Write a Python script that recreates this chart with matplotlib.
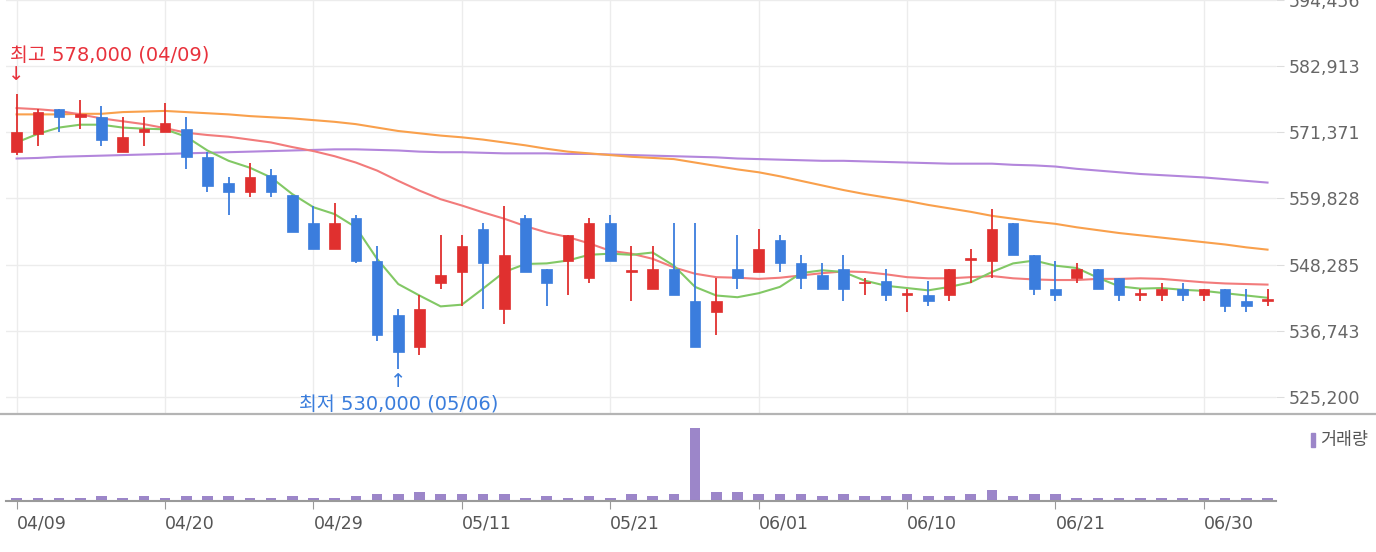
import numpy as np
import matplotlib
matplotlib.use('Agg')
import matplotlib.pyplot as plt
from matplotlib.patches import Rectangle
from matplotlib.lines import Line2D

# daily data, 2021-04-09 .. 2021-07-05
dates = ['04/09', '04/12', '04/13', '04/14', '04/15', '04/16', '04/19', '04/20', '04/21', '04/22',
         '04/23', '04/26', '04/27', '04/28', '04/29', '04/30', '05/03', '05/04', '05/06', '05/07',
         '05/10', '05/11', '05/12', '05/13', '05/14', '05/17', '05/18', '05/20', '05/21', '05/24',
         '05/25', '05/26', '05/27', '05/28', '05/31', '06/01', '06/02', '06/03', '06/04', '06/07',
         '06/08', '06/09', '06/10', '06/11', '06/14', '06/15', '06/16', '06/17', '06/18', '06/21',
         '06/22', '06/23', '06/24', '06/25', '06/28', '06/29', '06/30', '07/01', '07/02', '07/05']

opens = [568000, 571000, 575500, 574000, 574000, 568000, 571500, 571500, 572000, 567000,
         562500, 561000, 564000, 560500, 555500, 551000, 556500, 549000, 539500, 534000,
         545000, 547000, 554500, 540500, 556500, 547500, 549000, 546000, 555500, 547000,
         544000, 547500, 542000, 540000, 547500, 547000, 552500, 548500, 546500, 547500,
         545000, 545500, 543000, 543000, 543000, 549100, 549000, 555500, 550000, 544000,
         546000, 547500, 546000, 543000, 543000, 544000, 543000, 544000, 542000, 542000]
highs = [578000, 575500, 575500, 577000, 576000, 574000, 574000, 576500, 574000, 568000,
         563500, 566000, 565000, 560500, 558500, 559000, 557000, 551500, 540500, 543000,
         553500, 553500, 555500, 558500, 557000, 547500, 553500, 556500, 557000, 551500,
         551500, 555500, 555500, 546000, 553500, 554500, 553500, 550000, 548500, 550000,
         546000, 547500, 544000, 545500, 547500, 551000, 558000, 555500, 550000, 549000,
         548500, 547500, 546000, 544000, 545000, 545000, 544000, 544000, 544000, 544000]
lows = [567500, 569000, 571500, 572000, 569000, 568000, 569000, 571500, 565000, 561000,
        557000, 560000, 560000, 554000, 551000, 551000, 548500, 535000, 530000, 532500,
        544000, 541000, 540500, 538000, 547000, 541000, 543000, 545000, 549000, 542000,
        544000, 543000, 534000, 536000, 544000, 547000, 547000, 544000, 544000, 542000,
        543000, 542000, 540000, 541000, 542000, 545000, 546000, 550000, 543000, 542000,
        545000, 544000, 542000, 542000, 542000, 542000, 542000, 540000, 540000, 541000]
closes = [571500, 575000, 574000, 574500, 570000, 570500, 572000, 573000, 567000, 562000,
          561000, 563500, 561000, 554000, 551000, 555500, 549000, 536000, 533000, 540500,
          546500, 551500, 548500, 550000, 547000, 545000, 553500, 555500, 549000, 547300,
          547500, 543000, 534000, 542000, 546000, 551000, 548500, 546000, 544000, 544000,
          545300, 543000, 543300, 542000, 547500, 549400, 554500, 550000, 544000, 543000,
          547500, 544000, 543000, 543300, 544000, 543000, 544000, 541000, 541000, 542300]
volume = [28000, 27000, 29000, 28000, 48000, 27000, 50000, 28000, 49000, 48000,
          50000, 29000, 27000, 49000, 28000, 27000, 48000, 70000, 69000, 92000,
          71000, 70000, 69000, 72000, 28000, 48000, 27000, 49000, 28000, 70000,
          48000, 71000, 763000, 91000, 90000, 70000, 69000, 71000, 49000, 70000,
          48000, 49000, 70000, 48000, 49000, 71000, 112000, 48000, 70000, 69000,
          28000, 27000, 28000, 29000, 28000, 27000, 28000, 28000, 27000, 28000]

ma5 = [569600, 571100, 572200, 572700, 572700, 572200, 572000, 571900, 570600, 568200,
       566400, 565200, 563500, 560600, 558300, 557100, 554800, 549300, 544900, 542900,
       541000, 541300, 544100, 547000, 548400, 548500, 549000, 550000, 550200, 550000,
       550400, 548100, 544400, 542900, 542600, 543300, 544400, 546800, 547300, 547000,
       545500, 544600, 544200, 543800, 544400, 545200, 547000, 548500, 549000, 548100,
       547700, 546000, 544500, 544100, 544200, 543900, 543700, 543300, 542900, 542500]
ma20 = [575600, 575400, 575100, 574500, 573800, 573300, 572800, 572100, 571300, 570900,
        570600, 570100, 569600, 568800, 568100, 567200, 566100, 564700, 562900, 561200,
        559700, 558600, 557400, 556300, 555000, 553900, 553100, 552000, 550700, 550200,
        549300, 547800, 546700, 546100, 546000, 545800, 546000, 546400, 546800, 547100,
        547000, 546600, 546100, 545900, 545900, 546100, 546300, 545900, 545700, 545600,
        545600, 545800, 545800, 545900, 545800, 545500, 545200, 545000, 544900, 544800]
ma60 = [574500, 574500, 574500, 574600, 574600, 574900, 575000, 575100, 574900, 574700,
        574500, 574200, 574000, 573800, 573500, 573200, 572800, 572200, 571600, 571200,
        570800, 570500, 570100, 569600, 569100, 568500, 568000, 567700, 567400, 567100,
        566900, 566700, 566100, 565500, 564900, 564400, 563700, 562900, 562100, 561300,
        560600, 560000, 559400, 558700, 558100, 557500, 556800, 556300, 555800, 555400,
        554800, 554300, 553800, 553400, 553000, 552600, 552200, 551800, 551300, 550900]
ma120 = [566800, 566900, 567100, 567200, 567300, 567400, 567500, 567600, 567700, 567800,
         567900, 568000, 568100, 568200, 568300, 568400, 568400, 568300, 568200, 568000,
         567900, 567900, 567800, 567700, 567700, 567700, 567600, 567600, 567500, 567400,
         567300, 567200, 567100, 567000, 566800, 566700, 566600, 566500, 566400, 566400,
         566300, 566200, 566100, 566000, 565900, 565900, 565900, 565700, 565600, 565400,
         565000, 564700, 564400, 564100, 563900, 563700, 563500, 563200, 562900, 562600]

price_ticks = [525200, 536743, 548285, 559828, 571371, 582913, 594456]
tick_step = 7

RED = '#e0302f'
BLUE = '#3b7ddd'
VOL = '#9c86c9'
KFONT = ['DejaVu Sans', 'Noto Sans CJK KR']
plt.rcParams['font.family'] = ['DejaVu Sans']

x = np.arange(len(dates))
o = np.array(opens)
h = np.array(highs)
l = np.array(lows)
c = np.array(closes)

fig = plt.figure(figsize=(13.76, 5.52), dpi=100)
W, H = 1376, 552
ax = fig.add_axes([6 / W, 1 - 413 / H, 1270 / W, 413 / H])
axv = fig.add_axes([6 / W, 1 - 501 / H, 1270 / W, 86 / H], sharex=ax)

# moving averages
ax.plot(x, ma120, color='#b386dc', lw=1.5, zorder=2)
ax.plot(x, ma60, color='#f9a04c', lw=1.5, zorder=2)
ax.plot(x, ma20, color='#f27b7b', lw=1.5, zorder=2)
ax.plot(x, ma5, color='#82c865', lw=1.5, zorder=2)

# candles
cols = np.where(c >= o, RED, BLUE)
ax.vlines(x, l, h, colors=cols, lw=1.3, zorder=3)
body = np.maximum(np.abs(c - o), 250)
ax.bar(x, body, 0.5, bottom=np.minimum(o, c), color=cols, edgecolor=cols, lw=0.5, zorder=4)

ax.set_xlim(-0.5, 59.4)
ax.set_ylim(522400, price_ticks[-1])
ax.set_yticks(price_ticks)
ax.set_yticklabels([f'{v:,}' for v in price_ticks])
ax.yaxis.tick_right()
ax.tick_params(axis='y', length=6, color='#dddddd', labelcolor='#666666', labelsize=12.5, pad=3)
ax.tick_params(axis='x', length=0, labelbottom=False)
ax.grid(color='#ececec', lw=1)
ax.set_axisbelow(True)
for s in ax.spines.values():
    s.set_visible(False)

# high / low markers
hi_i = int(np.argmax(h))
lo_i = int(np.argmin(l))
ax.annotate('↓', xy=(hi_i, h[hi_i]), xytext=(0, 20), textcoords='offset pixels',
            ha='center', va='center', color='#e8323c', fontsize=14, family=KFONT,
            annotation_clip=False)
ax.annotate(f'최고 {h[hi_i]:,} ({dates[hi_i]})', xy=(hi_i, h[hi_i]), xytext=(-7, 38),
            textcoords='offset pixels', ha='left', va='center', color='#e8323c',
            fontsize=14, family=KFONT, annotation_clip=False)
ax.annotate('↑', xy=(lo_i, l[lo_i]), xytext=(0, -12), textcoords='offset pixels',
            ha='center', va='center', color='#3a7ddc', fontsize=14, family=KFONT,
            annotation_clip=False)
ax.annotate(f'최저 {l[lo_i]:,} ({dates[lo_i]})', xy=(lo_i, l[lo_i]), xytext=(0, -36),
            textcoords='offset pixels', ha='center', va='center', color='#3a7ddc',
            fontsize=14, family=KFONT, annotation_clip=False)

# volume
axv.bar(x, volume, 0.5, color=VOL)
axv.set_ylim(0, 903000)
axv.set_yticks([])
axv.set_xticks(x[::tick_step])
axv.set_xticklabels(dates[::tick_step], ha='left')
axv.tick_params(axis='x', length=6, color='#999999', labelcolor='#555555', labelsize=12.5, pad=4)
for k in ['top', 'left', 'right']:
    axv.spines[k].set_visible(False)
axv.spines['bottom'].set_color('#9a9a9a')
axv.spines['bottom'].set_linewidth(1.5)

fig.add_artist(Line2D([0, 1], [1 - 414 / H] * 2, transform=fig.transFigure, color='#b4b4b4', lw=1.6))
fig.add_artist(Rectangle((1311 / W, 1 - 447 / H), 4 / W, 14 / H, transform=fig.transFigure, color=VOL))
fig.text(1320 / W, 1 - 440 / H, '거래량', family=['Noto Sans CJK KR'], fontsize=12.5,
         color='#555555', va='center')

fig.savefig('out.png', dpi=100)
